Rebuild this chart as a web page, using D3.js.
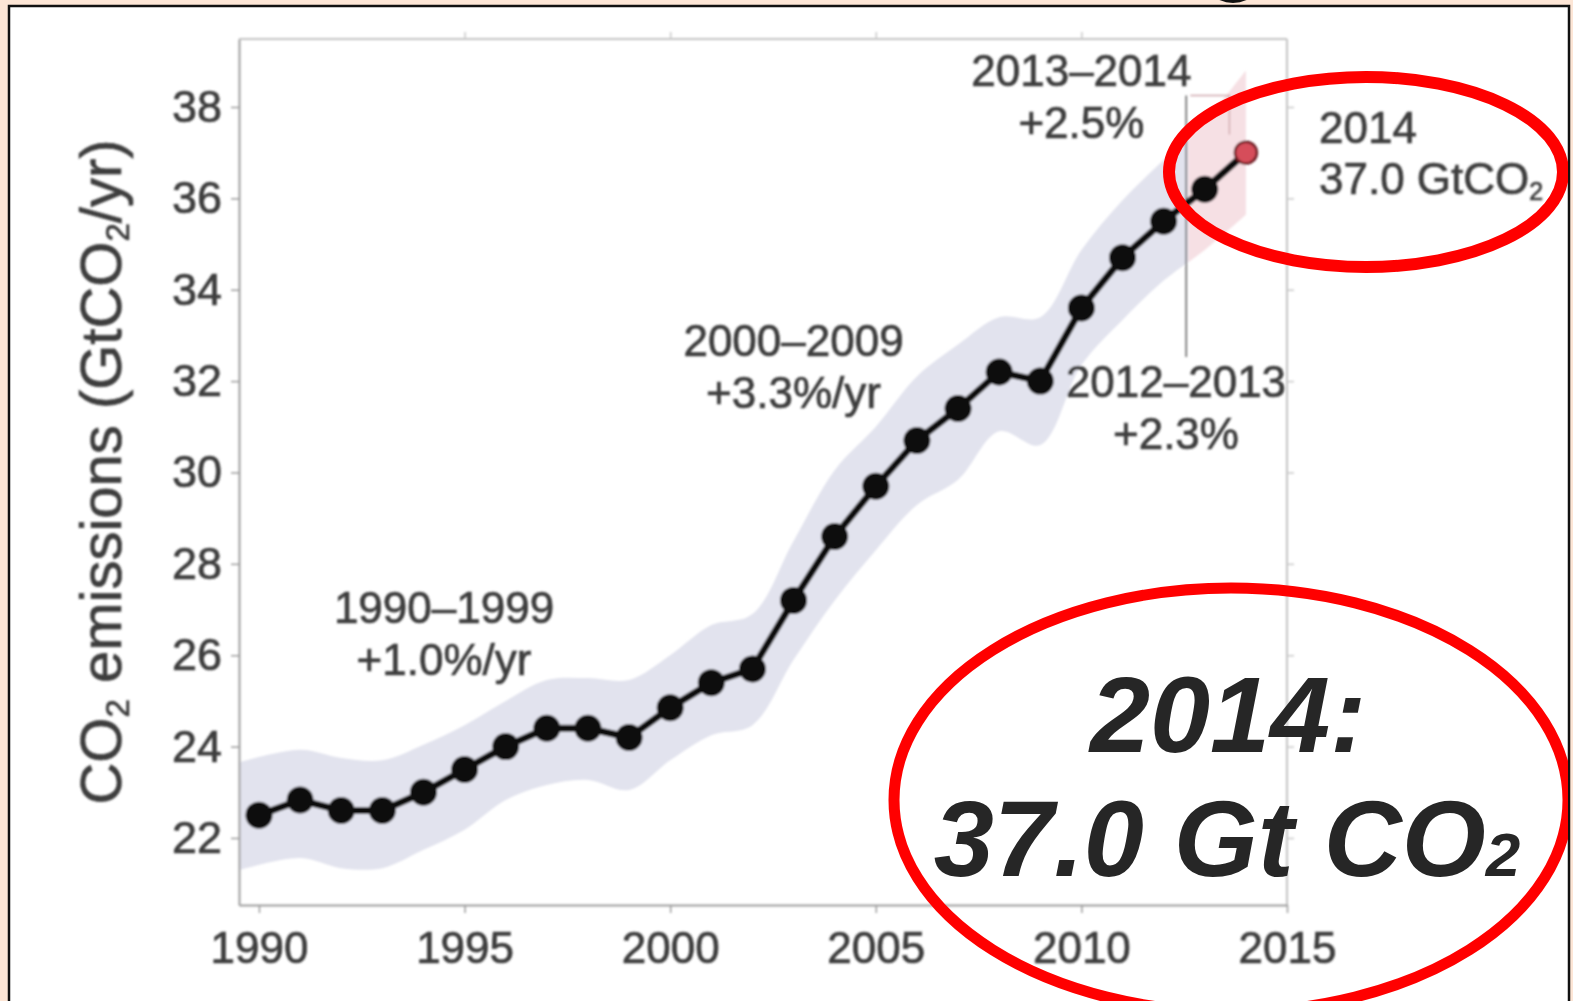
<!DOCTYPE html>
<html>
<head>
<meta charset="utf-8">
<script src="https://cdn.jsdelivr.net/npm/d3@7"></script>
<style>
  html, body { margin: 0; padding: 0; background: #fde6d6; overflow: hidden; }
  svg { display: block; }
</style>
</head>
<body>
<svg id="chart" width="1573" height="1001"></svg>
<script>
// Global fossil CO2 emissions, 1990-2014 (GtCO2/yr)
const years = [1990, 1991, 1992, 1993, 1994, 1995, 1996, 1997, 1998, 1999,
               2000, 2001, 2002, 2003, 2004, 2005, 2006, 2007, 2008, 2009,
               2010, 2011, 2012, 2013, 2014];
const emissions = [22.5, 22.83, 22.6, 22.6, 23.0, 23.5, 24.0, 24.4, 24.4, 24.2,
                   24.85, 25.4, 25.7, 27.2, 28.6, 29.7, 30.7, 31.4, 32.2, 32.0,
                   33.6, 34.7, 35.5, 36.2, 37.0];
// Uncertainty range around each yearly value
const bandLow = [21.3, 21.56, 21.34, 21.34, 21.74, 22.18, 22.83, 23.16, 23.27, 23.05,
                 23.7, 24.25, 24.47, 25.9, 27.2, 28.3, 29.29, 29.84, 30.9, 30.6,
                 32.35, 33.34, 34.2, 34.87, 35.64];
const bandHigh = [23.66, 23.93, 23.75, 23.7, 24.04, 24.47, 25.0, 25.46, 25.5, 25.46,
                  26.0, 26.66, 26.9, 28.5, 30.05, 31.0, 32.1, 32.8, 33.4, 33.4,
                  34.87, 35.96, 36.84, 37.7, 38.8];
const xTicks = [1990, 1995, 2000, 2005, 2010, 2015];
const yTicks = [22, 24, 26, 28, 30, 32, 34, 36, 38];

// Growth-rate annotations: [label line 1, line 2, year position, value position]
const notes = [
  ["1990\u20131999", "+1.0%/yr", 1994.5, 26.7],
  ["2000\u20132009", "+3.3%/yr", 2003.0, 32.55],
  ["2012\u20132013", "+2.3%",    2012.3, 31.65],
  ["2013\u20132014", "+2.5%",    2010.0, 38.45]
];
const finalYear = 2014;
const finalValue = 37.0;

const W = 1573, H = 1001;
const svg = d3.select("#chart");
const FONT = "'Liberation Sans', Arial, Helvetica, sans-serif";
const INK = "#3c3c3c";

const x = d3.scaleLinear().domain([1989.514, 2015]).range([239, 1287]);
const y = d3.scaleLinear().domain([20.533, 39.488]).range([905, 39]);

// Page frame
svg.append("rect").attr("width", W).attr("height", H).attr("fill", "#fde6d6");
svg.append("ellipse").attr("cx", 1233).attr("cy", -6).attr("rx", 18).attr("ry", 9)
   .attr("fill", "#111");
svg.append("rect").attr("x", 9).attr("y", 6).attr("width", 1560).attr("height", 1020)
   .attr("fill", "#fff").attr("stroke", "#111").attr("stroke-width", 2.5);

const defs = svg.append("defs");
defs.append("filter").attr("id", "soft").attr("x", "-5%").attr("y", "-5%")
    .attr("width", "110%").attr("height", "110%")
  .append("feGaussianBlur").attr("stdDeviation", 1.3);
defs.append("clipPath").attr("id", "clipBlue")
  .append("rect").attr("x", 0).attr("y", 0).attr("width", x(2012.6)).attr("height", H);
defs.append("clipPath").attr("id", "clipPink")
  .append("rect").attr("x", x(2012.6)).attr("y", 0).attr("width", W).attr("height", H);
defs.append("clipPath").attr("id", "clipBox")
  .append("rect").attr("x", 10).attr("y", 7).attr("width", 1558).attr("height", H);

const g = svg.append("g").attr("filter", "url(#soft)");

// Uncertainty band (first sample drawn from the left edge of the plot)
const band = d3.area()
  .x((d, i) => i === 0 ? x.range()[0] + 1 : x(years[i]))
  .y0((d, i) => y(bandLow[i]))
  .y1((d, i) => y(bandHigh[i]))
  .curve(d3.curveCatmullRom);
g.append("path").datum(years).attr("d", band).attr("fill", "#e2e3ee")
  .attr("clip-path", "url(#clipBlue)");
g.append("path").datum(years).attr("d", band).attr("fill", "#f6e0e4")
  .attr("clip-path", "url(#clipPink)");

// Frame: top and right lines
g.append("line").attr("x1", x(1989.514)).attr("x2", x(2015)).attr("y1", y(39.488)).attr("y2", y(39.488))
  .attr("stroke", "#c4c4c4").attr("stroke-width", 2);
g.append("line").attr("x1", x(2015)).attr("x2", x(2015)).attr("y1", y(39.488)).attr("y2", y(20.533))
  .attr("stroke", "#c4c4c4").attr("stroke-width", 2);

// Axes
function styleAxis(sel, color) {
  sel.select(".domain").attr("stroke", color).attr("stroke-width", 2);
  sel.selectAll(".tick line").attr("stroke", color).attr("stroke-width", 1.5);
  sel.selectAll(".tick text").attr("fill", INK).attr("font-family", FONT)
    .attr("stroke", INK).attr("stroke-width", 0.7);
}
const axisL = g.append("g").attr("transform", `translate(${x(1989.514)},0)`)
  .call(d3.axisLeft(y).tickValues(yTicks).tickSize(8).tickPadding(9).tickSizeOuter(0));
styleAxis(axisL, "#9c9c9c");
axisL.selectAll(".tick text").attr("font-size", 45);

const axisB = g.append("g").attr("transform", `translate(0,${y(20.533)})`)
  .call(d3.axisBottom(x).tickValues(xTicks).tickFormat(d3.format("d")).tickSize(8).tickPadding(19).tickSizeOuter(0));
styleAxis(axisB, "#9c9c9c");
axisB.selectAll(".tick text").attr("font-size", 44);

const axisR = g.append("g").attr("transform", `translate(${x(2015)},0)`)
  .call(d3.axisRight(y).tickValues(yTicks).tickSize(7).tickFormat("").tickSizeOuter(0));
axisR.select(".domain").remove();
axisR.selectAll(".tick line").attr("stroke", "#c8c8c8").attr("stroke-width", 1.5);

const axisT = g.append("g").attr("transform", `translate(0,${y(39.488)})`)
  .call(d3.axisTop(x).tickValues(xTicks.slice(1, 5)).tickSize(7).tickFormat("").tickSizeOuter(0));
axisT.select(".domain").remove();
axisT.selectAll(".tick line").attr("stroke", "#c8c8c8").attr("stroke-width", 1.5);

// Y axis title
const yt = g.append("text")
  .attr("transform", `translate(121,${(y(20.533) + y(39.488)) / 2}) rotate(-90)`)
  .attr("text-anchor", "middle").attr("font-family", FONT).attr("font-size", 58)
  .attr("fill", INK).attr("stroke", INK).attr("stroke-width", 0.7);
yt.append("tspan").text("CO");
yt.append("tspan").attr("font-size", 33).attr("dy", 8).text("2");
yt.append("tspan").attr("dy", -8).text(" emissions (GtCO");
yt.append("tspan").attr("font-size", 33).attr("dy", 8).text("2");
yt.append("tspan").attr("dy", -8).text("/yr)");

// Leader lines for the recent-year annotations
g.append("line").attr("x1", x(2012.55)).attr("x2", x(2012.55))
  .attr("y1", y(38.25)).attr("y2", y(32.53))
  .attr("stroke", "#666").attr("stroke-width", 1.6);
g.append("polyline")
  .attr("points", [[x(2012.65), y(38.25)], [x(2013.6), y(38.25)], [x(2013.6), y(37.4)]].map(p => p.join(",")).join(" "))
  .attr("fill", "none").attr("stroke", "#cfa7ab").attr("stroke-width", 1.4);

// Emissions line and yearly markers
const line = d3.line().x((d, i) => x(years[i])).y(d => y(d));
g.append("path").datum(emissions).attr("d", line)
  .attr("fill", "none").attr("stroke", "#111").attr("stroke-width", 7);
g.selectAll("circle.pt").data(emissions.slice(0, -1)).join("circle")
  .attr("class", "pt")
  .attr("cx", (d, i) => x(years[i])).attr("cy", d => y(d)).attr("r", 13.5)
  .attr("fill", "#111");
g.append("circle").attr("cx", x(finalYear)).attr("cy", y(finalValue)).attr("r", 11)
  .attr("fill", "#d64e5a").attr("stroke", "#6e1c22").attr("stroke-width", 2.5);

// Growth annotations
notes.forEach(([l1, l2, nx, ny]) => {
  const t = g.append("text").attr("text-anchor", "middle").attr("font-family", FONT)
    .attr("font-size", 44).attr("fill", INK).attr("stroke", INK).attr("stroke-width", 0.7);
  t.append("tspan").attr("x", x(nx)).attr("y", y(ny)).text(l1);
  t.append("tspan").attr("x", x(nx)).attr("dy", 52).text(l2);
});

// Final value label
const fl = g.append("text").attr("font-family", FONT).attr("font-size", 44).attr("fill", INK)
  .attr("stroke", INK).attr("stroke-width", 0.7);
fl.append("tspan").attr("x", 1319).attr("y", y(finalValue) - 10).text(String(finalYear));
fl.append("tspan").attr("x", 1319).attr("dy", 51).text(d3.format(".1f")(finalValue) + " GtCO");
fl.append("tspan").attr("font-size", 25).attr("dy", 6).text("2");

// Highlight rings
const rings = svg.append("g").attr("clip-path", "url(#clipBox)");
rings.append("ellipse").attr("cx", 1366).attr("cy", 172).attr("rx", 197).attr("ry", 95)
  .attr("fill", "none").attr("stroke", "#ff0000").attr("stroke-width", 12);
rings.append("ellipse").attr("cx", 1231).attr("cy", 800).attr("rx", 337).attr("ry", 212)
  .attr("fill", "none").attr("stroke", "#ff0000").attr("stroke-width", 11);

// Headline value
const big = svg.append("text").attr("text-anchor", "middle").attr("font-family", FONT)
  .attr("font-weight", "bold").attr("font-style", "italic").attr("font-size", 108)
  .attr("fill", "#262626");
big.append("tspan").attr("x", 1228).attr("y", 752).text(finalYear + ":");
const line2 = big.append("tspan").attr("x", 1227).attr("y", 876);
line2.text(d3.format(".1f")(finalValue) + " Gt CO");
big.append("tspan").attr("font-size", 62).text("2");
</script>
</body>
</html>
